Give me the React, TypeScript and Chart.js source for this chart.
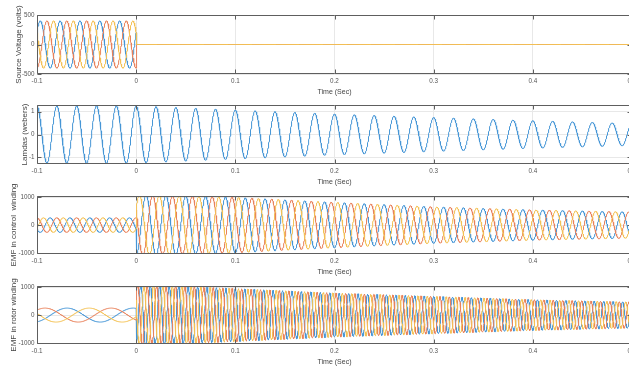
import React, { useEffect, useRef } from "react";
import { Chart, registerables } from "chart.js";
Chart.register(...registerables);

// ---------- axis data ----------
const timeTicks = [-0.1, 0, 0.1, 0.2, 0.3, 0.4, 0.5];
const timeTitle = "Time (Sec)";
const sourceTicks = [-500, 0, 500];
const lamdaTicks = [-1, 0, 1];
const emfTicks = [-1000, 0, 1000];
const yTitles = [
  "Source Voltage (volts)",
  "Lamdas (webers)",
  "EMF in control  winding",
  "EMF in rotor winding",
];
const yMin = [-500, -1.29, -1035, -1035];
const yMax = [500, 1.29, 1040, 1040];

// ---------- waveform readings (before / after the event at t = 0) ----------
const envTimesBefore = [-0.1, 0];
const envTimesAfter = [0, 0.05, 0.1, 0.2, 0.3, 0.4, 0.5];

const sourceFreq = [50, 50];
const sourcePhaseBlue = [-60, 0];
const sourcePeakBefore = [400, 400];
const sourcePeakAfter = [0, 0, 0, 0, 0, 0, 0];

const lamdaFreq = [50, 50];
const lamdaPhase = [0, 0];
const lamdaPeakBefore = [1.25, 1.25];
const lamdaPeakAfter = [1.25, 1.16, 1.07, 0.89, 0.74, 0.6, 0.48];

const controlFreq = [50, 50];
const controlPhaseBlue = [122, 180];
const controlPeakBefore = [260, 260];
const controlPeakAfter = [1080, 1040, 990, 810, 650, 540, 465];

const rotorFreq = [15, 105];
const rotorPhaseBlue = [16, 180];
const rotorPeakBefore = [250, 250];
const rotorPeakAfter = [1080, 1030, 950, 790, 670, 550, 465];

const phaseShiftPositive = [0, -120, 120]; // blue, orange, yellow
const phaseShiftRotor = [0, 120, -120];
const lineColors = ["#4696d6", "#e8825c", "#f3c155"];

// ---------- helpers ----------
function envAt(times: number[], peaks: number[], t: number) {
  if (t <= times[0]) return peaks[0];
  for (let i = 1; i < times.length; i++) {
    if (t <= times[i]) {
      const f = (t - times[i - 1]) / (times[i] - times[i - 1]);
      return peaks[i - 1] + f * (peaks[i] - peaks[i - 1]);
    }
  }
  return peaks[peaks.length - 1];
}

function buildWave(
  freq: number[],
  phase: number[],
  peakBefore: number[],
  peakAfter: number[],
  shiftDeg: number
) {
  const pts: { x: number; y: number }[] = [];
  const dt = 0.0002;
  const n1 = Math.round(0.1 / dt);
  for (let i = 0; i <= n1; i++) {
    const t = -0.1 + i * dt;
    const a = envAt(envTimesBefore, peakBefore, t);
    pts.push({ x: t, y: a * Math.cos(2 * Math.PI * freq[0] * t + ((phase[0] + shiftDeg) * Math.PI) / 180) });
  }
  const n2 = Math.round(0.5 / dt);
  for (let i = 0; i <= n2; i++) {
    const t = i * dt;
    const a = envAt(envTimesAfter, peakAfter, t);
    pts.push({ x: t, y: a * Math.cos(2 * Math.PI * freq[1] * t + ((phase[1] + shiftDeg) * Math.PI) / 180) });
  }
  return pts;
}

const boxPlugin = {
  id: "matlabBox",
  afterDraw(chart: any) {
    const { ctx, chartArea, scales } = chart;
    const l = Math.round(chartArea.left) + 0.5;
    const r = Math.round(chartArea.right) - 0.5;
    const t = Math.round(chartArea.top) + 0.5;
    const b = Math.round(chartArea.bottom) - 0.5;
    ctx.save();
    ctx.strokeStyle = "#5e5e5e";
    ctx.lineWidth = 1;
    ctx.beginPath();
    ctx.moveTo(l, t);
    ctx.lineTo(r, t);
    ctx.lineTo(r, b);
    ctx.lineTo(l, b);
    ctx.closePath();
    scales.x.ticks.forEach((tk: any) => {
      const px = Math.round(scales.x.getPixelForValue(tk.value)) + 0.5;
      ctx.moveTo(px, b);
      ctx.lineTo(px, b - 4);
      ctx.moveTo(px, t);
      ctx.lineTo(px, t + 4);
    });
    scales.y.ticks.forEach((tk: any) => {
      const py = Math.round(scales.y.getPixelForValue(tk.value)) + 0.5;
      ctx.moveTo(l, py);
      ctx.lineTo(l + 4, py);
      ctx.moveTo(r, py);
      ctx.lineTo(r - 4, py);
    });
    ctx.stroke();
    ctx.restore();
  },
};

const PAD_TOP = 30;
const X_AXIS_H = 26;
const CANVAS_W = 632;
const plotTops = [15, 105, 196, 286];
const plotBottoms = [74, 164, 254, 344];
const yTitlePad = [14, 19.5, 8.7, 8.7];
const FONT = "'Liberation Sans', Arial, Helvetica, sans-serif";

function makeConfig(idx: number, datasets: any[], yTicks: number[]) {
  return {
    type: "line",
    data: { datasets },
    options: {
      animation: false,
      responsive: false,
      events: [],
      layout: { padding: { top: PAD_TOP, left: 0, right: 0, bottom: 0 } },
      plugins: { legend: { display: false }, tooltip: { enabled: false } },
      elements: { point: { radius: 0 }, line: { borderWidth: 1, tension: 0 } },
      scales: {
        x: {
          type: "linear",
          min: -0.1,
          max: 0.5,
          afterBuildTicks: (s: any) => {
            s.ticks = timeTicks.map((v) => ({ value: v }));
          },
          afterFit: (s: any) => {
            s.height = X_AXIS_H;
            s.paddingLeft = 0;
            s.paddingRight = 0;
          },
          grid: { color: "#e8e8e8", drawTicks: false, lineWidth: 1 },
          border: { display: false },
          ticks: {
            padding: 3,
            maxRotation: 0,
            autoSkip: false,
            color: "#555555",
            font: { family: FONT, size: 6.3 },
            callback: (v: any) => String(Math.round(Number(v) * 10) / 10),
          },
          title: {
            display: true,
            text: timeTitle,
            color: "#444444",
            font: { family: FONT, size: 7 },
            padding: { top: 0, bottom: 3.8 },
          },
        },
        y: {
          type: "linear",
          min: yMin[idx],
          max: yMax[idx],
          afterBuildTicks: (s: any) => {
            s.ticks = yTicks.map((v) => ({ value: v }));
          },
          afterFit: (s: any) => {
            s.width = 37;
            s.paddingTop = 0;
            s.paddingBottom = 0;
          },
          grid: { color: "#e8e8e8", drawTicks: false, lineWidth: 1 },
          border: { display: false },
          ticks: {
            padding: 2.5,
            autoSkip: false,
            color: "#555555",
            font: { family: FONT, size: 6.3 },
            callback: (v: any) => String(v),
          },
          title: {
            display: true,
            text: yTitles[idx],
            color: "#444444",
            font: { family: FONT, size: 8 },
            padding: { top: yTitlePad[idx], bottom: 0 },
          },
        },
      },
    },
    plugins: [boxPlugin],
  };
}

function threePhase(
  freq: number[],
  phase: number[],
  before: number[],
  after: number[],
  shifts: number[]
) {
  return [0, 1, 2].map((k) => ({
    data: buildWave(freq, phase, before, after, shifts[k]),
    borderColor: lineColors[k],
    borderWidth: 1,
    pointRadius: 0,
    fill: false,
    order: 2 - k,
  }));
}

function SubPlot({ idx }: { idx: number }) {
  const ref = useRef<HTMLCanvasElement | null>(null);
  useEffect(() => {
    if (!ref.current) return;
    let datasets: any[] = [];
    let ticks: number[] = [];
    if (idx === 0) {
      datasets = threePhase(sourceFreq, sourcePhaseBlue, sourcePeakBefore, sourcePeakAfter, phaseShiftPositive);
      ticks = sourceTicks;
    } else if (idx === 1) {
      datasets = [
        {
          data: buildWave(lamdaFreq, lamdaPhase, lamdaPeakBefore, lamdaPeakAfter, 0),
          borderColor: lineColors[0],
          borderWidth: 1,
          pointRadius: 0,
          fill: false,
        },
      ];
      ticks = lamdaTicks;
    } else if (idx === 2) {
      datasets = threePhase(controlFreq, controlPhaseBlue, controlPeakBefore, controlPeakAfter, phaseShiftPositive);
      ticks = emfTicks;
    } else {
      datasets = threePhase(rotorFreq, rotorPhaseBlue, rotorPeakBefore, rotorPeakAfter, phaseShiftRotor);
      ticks = emfTicks;
    }
    const chart = new Chart(ref.current, makeConfig(idx, datasets, ticks) as any);
    return () => chart.destroy();
  }, [idx]);
  const h = PAD_TOP + (plotBottoms[idx] - plotTops[idx]) + X_AXIS_H;
  return (
    <canvas
      ref={ref}
      width={CANVAS_W}
      height={h}
      style={{ position: "absolute", left: 0, top: plotTops[idx] - PAD_TOP, width: CANVAS_W, height: h }}
    />
  );
}

export default function App() {
  return (
    <div
      style={{
        position: "fixed",
        left: 0,
        top: 0,
        width: 629,
        height: 367,
        overflow: "hidden",
        background: "#ffffff",
      }}
    >
      {[0, 1, 2, 3].map((i) => (
        <SubPlot key={i} idx={i} />
      ))}
    </div>
  );
}
